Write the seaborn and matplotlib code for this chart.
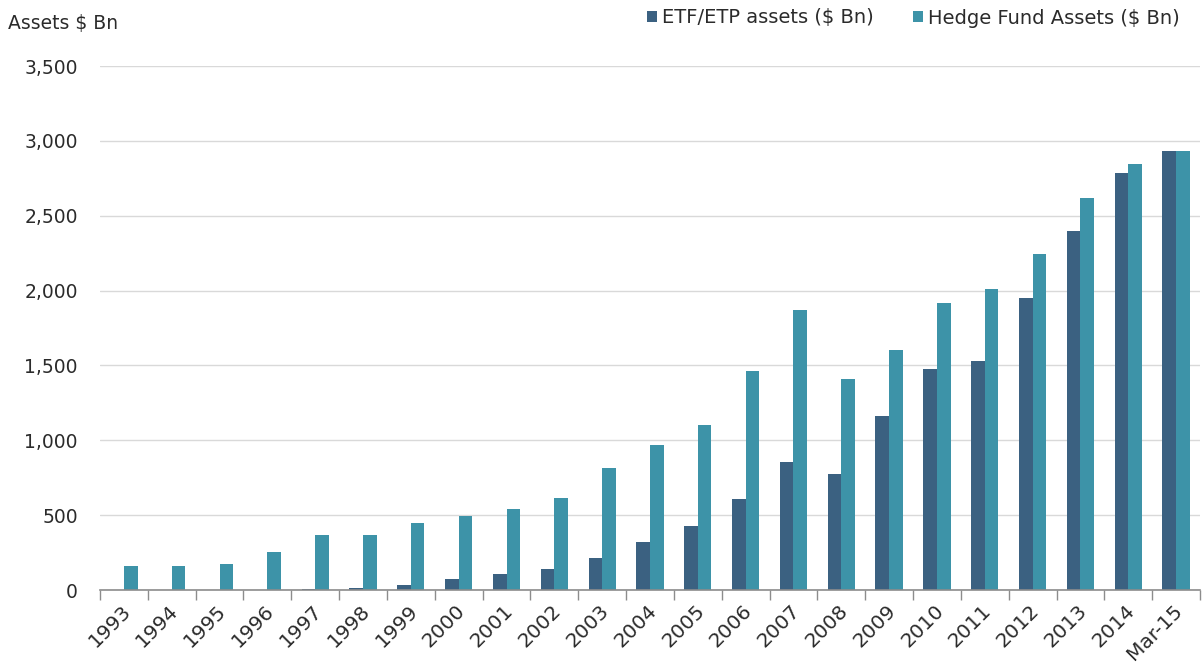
import matplotlib
matplotlib.use("Agg")
import matplotlib.pyplot as plt
import seaborn as sns
import pandas as pd
import numpy as np
from matplotlib.ticker import FuncFormatter, FixedLocator
from matplotlib.transforms import ScaledTranslation

periods = ["1993", "1994", "1995", "1996", "1997", "1998", "1999", "2000",
           "2001", "2002", "2003", "2004", "2005", "2006", "2007", "2008",
           "2009", "2010", "2011", "2012", "2013", "2014", "Mar-15"]
etf_assets = [0.5, 1, 2, 3, 7, 15, 35, 75, 105, 140, 215, 320, 430, 610,
              855, 775, 1160, 1475, 1530, 1950, 2395, 2785, 2935]
hedge_assets = [160, 160, 175, 255, 365, 370, 450, 495, 540, 615, 815, 970,
                1105, 1465, 1870, 1410, 1600, 1915, 2010, 2245, 2620, 2845, 2935]
series_names = ["ETF/ETP assets ($ Bn)", "Hedge Fund Assets ($ Bn)"]
colors = ["#3b6181", "#3d93a8"]

n = len(periods)
df = pd.DataFrame({
    "period": periods * 2,
    "value": etf_assets + hedge_assets,
    "series": [series_names[0]] * n + [series_names[1]] * n,
})

sns.set_theme(style="white")
plt.rcParams["font.family"] = ["DejaVu Sans"]
text_color = "#2b2b2b"

fig = plt.figure(figsize=(12.02, 6.70), dpi=100)
ax = fig.add_axes([100 / 1202, 80 / 670, 1100 / 1202, 524 / 670])

sns.barplot(data=df, x="period", y="value", hue="series", order=periods,
            hue_order=series_names, palette=colors, width=0.57, gap=0,
            saturation=1, linewidth=0, ax=ax, legend=True)

ax.set_ylim(0, 3500)
ax.set_xlim(-0.5, n - 0.5)
ax.yaxis.set_major_locator(FixedLocator(np.arange(0, 3501, 500)))
ax.yaxis.set_major_formatter(FuncFormatter(lambda v, p: f"{int(v):,}"))
ax.grid(axis="y", color="#d9d9d9", linewidth=1)
ax.set_axisbelow(True)

for s in ["top", "right", "left"]:
    ax.spines[s].set_visible(False)
ax.spines["bottom"].set_color("#8c8c8c")
ax.spines["bottom"].set_linewidth(1.2)

ax.set_xlabel("")
ax.set_ylabel("")
ax.tick_params(axis="y", length=0, labelsize=13.5, labelcolor=text_color, pad=16)
ax.tick_params(axis="x", which="major", length=0, labelsize=14.5,
               labelcolor=text_color, pad=8)
ax.set_xticks(range(n))
ax.set_xticklabels(periods, rotation=45, ha="right", rotation_mode="anchor")
shift = ScaledTranslation(-3 / 100, 0, fig.dpi_scale_trans)
for lbl in ax.get_xticklabels():
    lbl.set_transform(lbl.get_transform() + shift)
ax.set_xticks(np.arange(-0.5, n, 1), minor=True)
ax.tick_params(axis="x", which="minor", length=7, color="#8c8c8c", width=1,
               bottom=True)

fig.text(8 / 1202, 1 - 23 / 670, "Assets $ Bn", fontsize=13.5, color=text_color,
         ha="left", va="center")

handles, labels = ax.get_legend_handles_labels()
fig.legend(handles, labels, loc="center right", bbox_to_anchor=(1180 / 1202, 1 - 18 / 670),
           ncol=2, frameon=False, fontsize=14, handlelength=0.55,
           handleheight=0.55, handletextpad=0.25, columnspacing=2.0,
           labelcolor=text_color, borderaxespad=0, borderpad=0)
ax.get_legend().remove()

fig.savefig("out.png", dpi=100)
